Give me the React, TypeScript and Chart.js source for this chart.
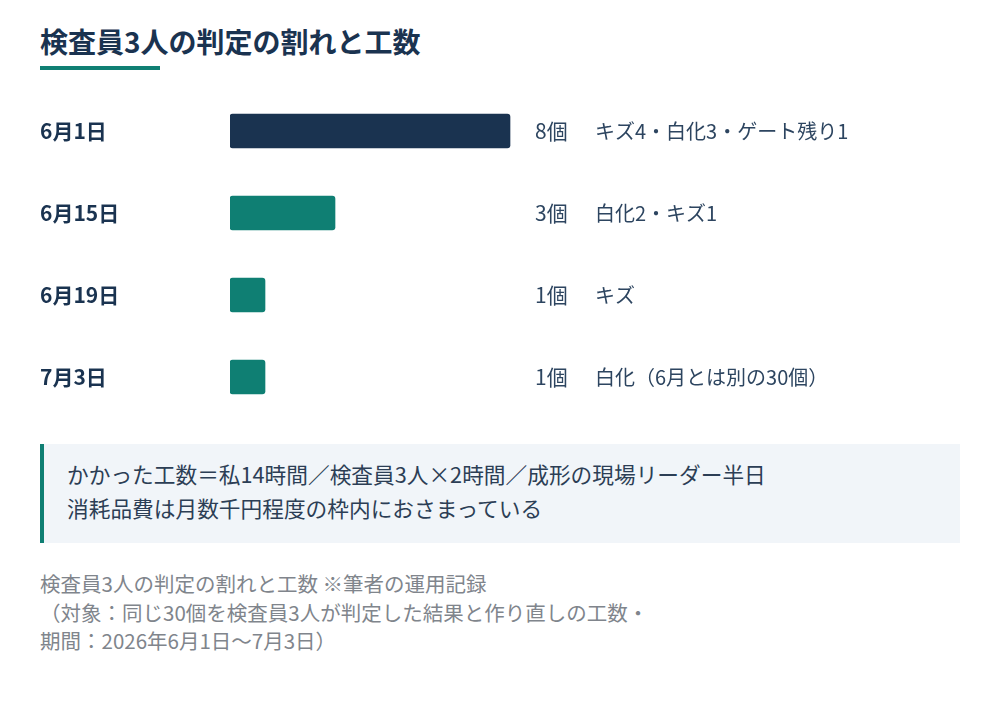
import React, { useEffect, useRef } from "react";
import { Chart, registerables } from "chart.js";

Chart.register(...registerables);

const TITLE = "検査員3人の判定の割れと工数";
const dates = ["6月1日", "6月15日", "6月19日", "7月3日"];
const counts = [8, 3, 1, 1];
const countLabels = ["8個", "3個", "1個", "1個"];
const details = ["キズ4・白化3・ゲート残り1", "白化2・キズ1", "キズ", "白化（6月とは別の30個）"];
const barColors = ["#1a3350", "#0f7f73", "#0f7f73", "#0f7f73"];
const noteLines = [
  "かかった工数＝私14時間／検査員3人×2時間／成形の現場リーダー半日",
  "消耗品費は月数千円程度の枠内におさまっている",
];
const captionLines = [
  "検査員3人の判定の割れと工数 ※筆者の運用記録",
  "（対象：同じ30個を検査員3人が判定した結果と作り直しの工数・",
  "期間：2026年6月1日〜7月3日）",
];

const FONT = '"Noto Sans CJK JP", "Noto Sans", sans-serif';

export default function App() {
  const ref = useRef<HTMLCanvasElement | null>(null);

  useEffect(() => {
    if (!ref.current) return;
    const textPlugin = {
      id: "rowText",
      afterDatasetsDraw(chart: any) {
        const ctx = chart.ctx;
        const x = chart.scales.x;
        const y = chart.scales.y;
        const maxV = Math.max(...counts);
        const base = x.getPixelForValue(maxV) + 25;
        ctx.save();
        ctx.fillStyle = "#2d4560";
        ctx.textBaseline = "middle";
        ctx.textAlign = "left";
        counts.forEach((_, i) => {
          const py = y.getPixelForValue(i);
          ctx.font = `400 21px ${FONT}`;
          ctx.fillText(countLabels[i], base, py);
          ctx.font = `400 20px ${FONT}`;
          ctx.fillText(details[i], base + 60, py);
        });
        ctx.restore();
      },
    };
    const chart = new Chart(ref.current, {
      type: "bar",
      data: {
        labels: dates,
        datasets: [
          {
            data: counts,
            backgroundColor: barColors,
            barThickness: 34,
            borderRadius: 3,
            borderSkipped: false,
          },
        ],
      },
      options: {
        indexAxis: "y",
        responsive: false,
        animation: false,
        devicePixelRatio: 1,
        layout: { padding: { left: 0, right: 30, top: 0, bottom: 0 } },
        plugins: { legend: { display: false }, tooltip: { enabled: false } },
        scales: {
          x: { display: false, min: 0, max: 20 },
          y: {
            grid: { display: false, drawTicks: false },
            border: { display: false },
            ticks: {
              crossAlign: "far",
              padding: 0,
              color: "#1a3350",
              font: { family: FONT, size: 21, weight: "bold" },
            },
            afterFit(scale: any) {
              scale.width = 190;
              scale.paddingTop = 0;
              scale.paddingBottom = 0;
            },
          },
        },
      },
      plugins: [textPlugin],
    } as any);
    return () => chart.destroy();
  }, []);

  return (
    <div
      style={{
        position: "fixed",
        left: 0,
        top: 0,
        width: 1000,
        height: 704,
        background: "#ffffff",
        fontFamily: FONT,
      }}
    >
      <div
        style={{
          position: "absolute",
          left: 40,
          top: 21,
          fontSize: 28,
          fontWeight: 700,
          color: "#1a3350",
          lineHeight: "40px",
          whiteSpace: "nowrap",
        }}
      >
        {TITLE}
      </div>
      <div
        style={{
          position: "absolute",
          left: 40,
          top: 66,
          width: 120,
          height: 4,
          background: "#0f7f73",
        }}
      />
      <canvas
        ref={ref}
        width={920}
        height={328}
        style={{ position: "absolute", left: 40, top: 90, width: 920, height: 328 }}
      />
      <div
        style={{
          position: "absolute",
          left: 40,
          top: 444,
          width: 920,
          height: 99,
          boxSizing: "border-box",
          background: "#f1f5f9",
          borderLeft: "4px solid #0f7f73",
          padding: "13px 0 0 23px",
          color: "#2c3e55",
          fontSize: 21.7,
          lineHeight: "34px",
        }}
      >
        {noteLines.map((l, i) => (
          <div key={i} style={{ whiteSpace: "nowrap" }}>{l}</div>
        ))}
      </div>
      <div
        style={{
          position: "absolute",
          left: 40,
          top: 569,
          color: "#80858c",
          fontSize: 20.5,
          lineHeight: "28.5px",
        }}
      >
        {captionLines.map((l, i) => (
          <div key={i} style={{ whiteSpace: "nowrap" }}>{l}</div>
        ))}
      </div>
    </div>
  );
}
